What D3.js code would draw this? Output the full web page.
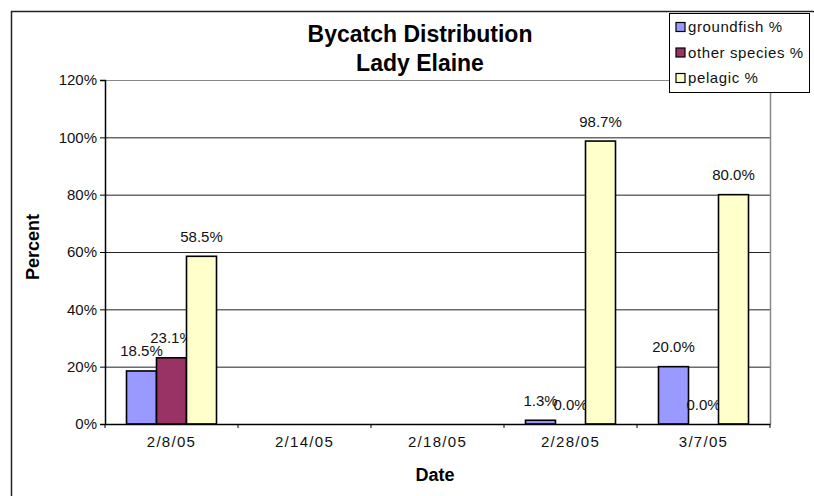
<!DOCTYPE html>
<html><head><meta charset="utf-8">
<script src="https://cdn.jsdelivr.net/npm/d3@7"></script>
<style>body{margin:0;background:#fff}svg{display:block;font-family:"Liberation Sans",Arial,sans-serif}</style>
</head><body><svg id="c" width="814" height="496"></svg>
<script>
const categories = ["2/8/05","2/14/05","2/18/05","2/28/05","3/7/05"];
const seriesNames = ["groundfish %","other species %","pelagic %"];
const groundfish = [18.5, null, null, 1.3, 20.0];
const otherSpecies = [23.1, null, null, 0.0, 0.0];
const pelagic = [58.5, null, null, 98.7, 80.0];
const yTicks = [0,20,40,60,80,100,120];
const colors = ["#9999FF","#993366","#FFFFCC"];

const series = [groundfish, otherSpecies, pelagic];
const svg = d3.select("#c");
const L=105, R=770, T=80, B=424;
const FF = "Liberation Sans, Arial, sans-serif";

// outer chart frame
svg.append("rect").attr("x",11.5).attr("y",11.5).attr("width",820).attr("height",500)
  .attr("fill","none").attr("stroke","#222").attr("stroke-width",1.5);

const x = d3.scaleBand().domain(categories).range([L,R]).paddingInner(0).paddingOuter(0);
const xs = d3.scaleBand().domain(seriesNames).range([0,90]);
const y = d3.scaleLinear().domain([0,120]).range([B,T]);

// gridlines
svg.append("g").selectAll("line").data(yTicks.filter(d=>d>0)).join("line")
  .attr("x1",L).attr("x2",R).attr("y1",d=>y(d)+0.5).attr("y2",d=>y(d)+0.5)
  .attr("stroke",d=>d===120?"#888":"#222").attr("stroke-width",1);
// right border of plot
svg.append("line").attr("x1",R+0.5).attr("x2",R+0.5).attr("y1",T).attr("y2",B)
  .attr("stroke","#888").attr("stroke-width",1.5);

// bars
const gOff = (x.bandwidth()-90)/2;
series.forEach((s,i)=>{
  const data = categories.map((c,j)=>({c,v:s[j]})).filter(d=>d.v!==null);
  svg.append("g").selectAll("rect").data(data).join("rect")
    .attr("x",d=>x(d.c)+gOff+xs(seriesNames[i]))
    .attr("y",d=>y(d.v))
    .attr("width",xs.bandwidth())
    .attr("height",d=>B-y(d.v))
    .attr("fill",colors[i]).attr("stroke","#000").attr("stroke-width",1.6);
  svg.append("g").selectAll("text").data(data).join("text")
    .attr("x",d=>x(d.c)+gOff+xs(seriesNames[i])+xs.bandwidth()/2)
    .attr("y",d=>y(d.v)-14.5)
    .attr("text-anchor","middle").attr("font-size",15).attr("fill","#111")
    .text(d=>d.v.toFixed(1)+"%");
});

// y axis
const ya = svg.append("g").attr("transform",`translate(${L},0)`)
  .call(d3.axisLeft(y).tickValues(yTicks).tickSize(5).tickFormat(d=>d+"%"));
ya.select(".domain").attr("stroke","#000").attr("stroke-width",1.5);
ya.selectAll(".tick line").attr("stroke","#000");
ya.selectAll("text").attr("font-size",15).attr("font-family",FF).attr("fill","#111").attr("x",-8);

// x axis
const xa = svg.append("g").attr("transform",`translate(0,${B})`)
  .call(d3.axisBottom(x).tickSize(0));
xa.select(".domain").attr("stroke","#000").attr("stroke-width",1.5);
xa.selectAll("text").attr("font-size",15).attr("font-family",FF).attr("fill","#111")
  .attr("letter-spacing",1.3).attr("dy",null).attr("y",23);
const bounds = categories.map(c=>x(c)).concat([R]);
svg.append("g").selectAll("line").data(bounds).join("line")
  .attr("x1",d=>d).attr("x2",d=>d).attr("y1",B).attr("y2",B+4).attr("stroke","#000");

// titles
svg.append("text").attr("x",420).attr("y",42).attr("text-anchor","middle")
  .attr("font-size",23).attr("font-weight","bold").text("Bycatch Distribution");
svg.append("text").attr("x",420).attr("y",71).attr("text-anchor","middle")
  .attr("font-size",23).attr("font-weight","bold").text("Lady Elaine");
svg.append("text").attr("x",435).attr("y",481).attr("text-anchor","middle")
  .attr("font-size",18).attr("font-weight","bold").text("Date");
svg.append("text").attr("transform","translate(39,247) rotate(-90)").attr("text-anchor","middle")
  .attr("font-size",18).attr("font-weight","bold").text("Percent");

// legend
const lg = svg.append("g");
lg.append("rect").attr("x",669.5).attr("y",13.5).attr("width",140).attr("height",79)
  .attr("fill","#fff").attr("stroke","#000").attr("stroke-width",1);
seriesNames.forEach((n,i)=>{
  const cy = 27 + i*25.5;
  lg.append("rect").attr("x",676).attr("y",cy-4.5).attr("width",9).attr("height",9)
    .attr("fill",colors[i]).attr("stroke","#000").attr("stroke-width",1.2);
  lg.append("text").attr("x",688).attr("y",cy+5).attr("font-size",15).attr("letter-spacing",0.6)
    .attr("fill","#111").text(n);
});
</script></body></html>
